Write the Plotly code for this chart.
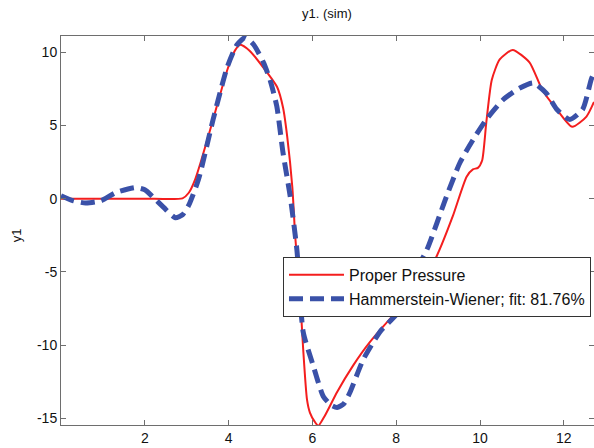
import plotly.graph_objects as go

# --- data ---
red_x = [0, 1, 2, 2.9, 3.05, 3.2, 3.33, 3.63, 3.97, 4.15, 4.28, 4.5, 4.92, 5.16, 5.3, 5.40, 5.52,
         5.59, 5.71, 5.78, 5.87, 5.94, 6.05, 6.14, 6.3, 6.59, 6.97, 7.37, 7.92, 8.05, 8.4, 8.97,
         9.35, 9.68, 9.83, 9.95, 10.05, 10.15, 10.28, 10.47, 10.78, 11.18, 11.49, 11.83, 12.2,
         12.54, 12.72]
red_y = [0, 0, 0, 0.02, 0.4, 1.3, 2.45, 5.4, 8.8, 10.1, 10.5, 10.1, 8.6, 7.6, 6.2, 4.2, 0.8,
         -2.6, -6.9, -10.3, -13.7, -14.6, -15.2, -15.5, -14.8, -13.2, -11.4, -9.8, -8.0, -7.7, -6.9, -3.9,
         -1.2, 1.5, 2.0, 2.1, 2.6, 5.2, 8.1, 9.5, 10.15, 9.3, 7.4, 6.1, 4.9,
         5.6, 6.6]

blue_x = [0, 0.3, 0.59, 0.95, 1.3, 1.78, 2.0, 2.18, 2.45, 2.73, 2.9, 3.04, 3.28, 3.63, 3.97, 4.2,
          4.4, 4.6, 4.83, 5.0, 5.15, 5.3, 5.47, 5.63, 5.78, 6.02, 6.26, 6.45, 6.59, 6.75, 6.9,
          7.21, 7.61, 8.09, 8.4, 8.73, 9.2, 9.52, 9.83, 10.15, 10.55, 10.95, 11.27, 11.58, 11.83,
          12.14, 12.45, 12.65, 12.72]
blue_y = [0.2, -0.15, -0.3, -0.15, 0.4, 0.75, 0.6, 0.15, -0.6, -1.3, -1.1, -0.5, 1.3, 5.4, 9.0, 10.5,
          11.0, 10.5, 9.3, 8.0, 6.3, 3.1, 0.15, -3.5, -9.1, -11.4, -13.5, -14.1, -14.25, -14.0, -13.2,
          -11.0, -9.1, -7.6, -5.3, -3.5, 0.15, 2.45, 4.0, 5.4, 6.75, 7.55, 7.9, 7.2, 6.1,
          5.4, 6.1, 8.1, 8.6]

x_ticks = [2, 4, 6, 8, 10, 12]
y_ticks = [-15, -10, -5, 0, 5, 10]
y_tick_labels = ["-15", "-10", "-5", "0", "5", "10"]

title_text = "y1. (sim)"
ylabel_text = "y1"
red_name = "Proper Pressure"
blue_name = "Hammerstein-Wiener; fit: 81.76%"

FONT = "Liberation Sans, Arial, sans-serif"

fig = go.Figure()
fig.add_trace(go.Scatter(x=red_x, y=red_y, mode="lines", name=red_name,
                         line=dict(color="#f41e1e", width=2, shape="spline", smoothing=0.6),
                         legendgroup="a"))
fig.add_trace(go.Scatter(x=blue_x, y=blue_y, mode="lines", name=blue_name,
                         line=dict(color="#3a51a8", width=5, shape="spline", smoothing=0.6,
                                   dash="14px,7px"),
                         legendgroup="b"))

axis_common = dict(showline=True, linecolor="#6e6e6e", linewidth=1, mirror="ticks",
                   ticks="inside", ticklen=5, tickcolor="#6e6e6e", showgrid=False,
                   zeroline=False, tickfont=dict(family=FONT, size=14, color="#111"))

fig.update_layout(
    width=594, height=448,
    margin=dict(l=61, r=0, t=36, b=23),
    paper_bgcolor="white", plot_bgcolor="white",
    font=dict(family=FONT, size=14, color="#111"),
    title=dict(text=title_text, x=0.5505, xref="container", xanchor="center",
               y=1 - 13 / 448, yref="container", yanchor="middle",
               font=dict(family=FONT, size=13, color="#111")),
    xaxis=dict(range=[0, 12.72], tickvals=x_ticks, **axis_common),
    yaxis=dict(range=[-15.45, 11.1], tickvals=y_ticks, ticktext=y_tick_labels, **axis_common),
    showlegend=True,
    legend=dict(x=0.4165, y=0.432, xanchor="left", yanchor="top",
                bgcolor="white", bordercolor="#333", borderwidth=1,
                font=dict(family=FONT, size=16, color="#111"),
                itemwidth=55, tracegroupgap=0, traceorder="grouped"),
    annotations=[dict(text=ylabel_text, xref="paper", yref="paper", x=-0.0844, y=0.488,
                      textangle=-90, showarrow=False, xanchor="center", yanchor="middle",
                      font=dict(family=FONT, size=13, color="#111"))],
)

fig.write_html("out.html")
